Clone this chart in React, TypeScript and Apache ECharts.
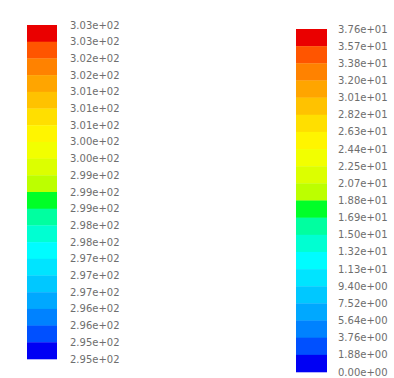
import React, { useEffect, useRef } from "react";
import * as echarts from "echarts";

// Tick labels, top to bottom (21 band boundaries)
const leftLabels = [
  "3.03e+02", "3.03e+02", "3.02e+02", "3.02e+02", "3.01e+02", "3.01e+02", "3.01e+02",
  "3.00e+02", "3.00e+02", "2.99e+02", "2.99e+02", "2.99e+02", "2.98e+02", "2.98e+02",
  "2.97e+02", "2.97e+02", "2.97e+02", "2.96e+02", "2.96e+02", "2.95e+02", "2.95e+02",
];
const rightLabels = [
  "3.76e+01", "3.57e+01", "3.38e+01", "3.20e+01", "3.01e+01", "2.82e+01", "2.63e+01",
  "2.44e+01", "2.25e+01", "2.07e+01", "1.88e+01", "1.69e+01", "1.50e+01", "1.32e+01",
  "1.13e+01", "9.40e+00", "7.52e+00", "5.64e+00", "3.76e+00", "1.88e+00", "0.00e+00",
];
// Band colours, top to bottom (20 bands)
const bandColors = [
  "#ea0000", "#ff5500", "#ff8200", "#ffa500", "#ffc200", "#ffdf00", "#fff500",
  "#f2ff00", "#dcff00", "#bcff00", "#00ff28", "#00ffa0", "#00ffd2", "#00fcff",
  "#00e4ff", "#00c8ff", "#00a8ff", "#0082ff", "#0050ff", "#0000f4",
];
const bandIndex = bandColors.map((_, i) => i);

function bandSeries(axisIndex: number) {
  return {
    type: "custom",
    xAxisIndex: axisIndex,
    yAxisIndex: axisIndex,
    data: bandIndex.map((i) => [0, i]),
    renderItem: (params: any, api: any) => {
      const i = api.value(1);
      const p0 = api.coord([0, i]);
      const p1 = api.coord([1, i + 1]);
      const y = Math.min(p0[1], p1[1]);
      const h = Math.abs(p1[1] - p0[1]);
      return {
        type: "rect",
        shape: { x: p0[0], y, width: p1[0] - p0[0], height: h + 0.3 },
        style: { fill: bandColors[i] },
      };
    },
  };
}

function yAxisFor(gridIndex: number, labels: string[], margin: number) {
  return {
    gridIndex,
    type: "value",
    min: 0,
    max: 20,
    interval: 1,
    inverse: true,
    position: "right",
    axisLine: { show: false },
    axisTick: { show: false },
    splitLine: { show: false },
    axisLabel: {
      margin,
      showMinLabel: true,
      showMaxLabel: true,
      fontFamily: "DejaVu Sans",
      fontSize: 10,
      color: "#6e6e6e",
      formatter: (v: number) => labels[Math.round(v)] ?? "",
    },
  };
}

function xAxisFor(gridIndex: number) {
  return { gridIndex, type: "value", min: 0, max: 1, show: false };
}

export default function App() {
  const ref = useRef<HTMLDivElement>(null);
  useEffect(() => {
    if (!ref.current) return;
    const chart = echarts.init(ref.current, null, { renderer: "svg" });
    chart.setOption({
      animation: false,
      backgroundColor: "#ffffff",
      grid: [
        { left: 27, top: 25, width: 30, height: 334 },
        { left: 296, top: 29, width: 31, height: 343 },
      ],
      xAxis: [xAxisFor(0), xAxisFor(1)],
      yAxis: [yAxisFor(0, leftLabels, 13), yAxisFor(1, rightLabels, 11)],
      series: [bandSeries(0), bandSeries(1)],
    });
    return () => chart.dispose();
  }, []);
  return (
    <div
      ref={ref}
      style={{ position: "fixed", left: 0, top: 0, width: 394, height: 378 }}
    />
  );
}
